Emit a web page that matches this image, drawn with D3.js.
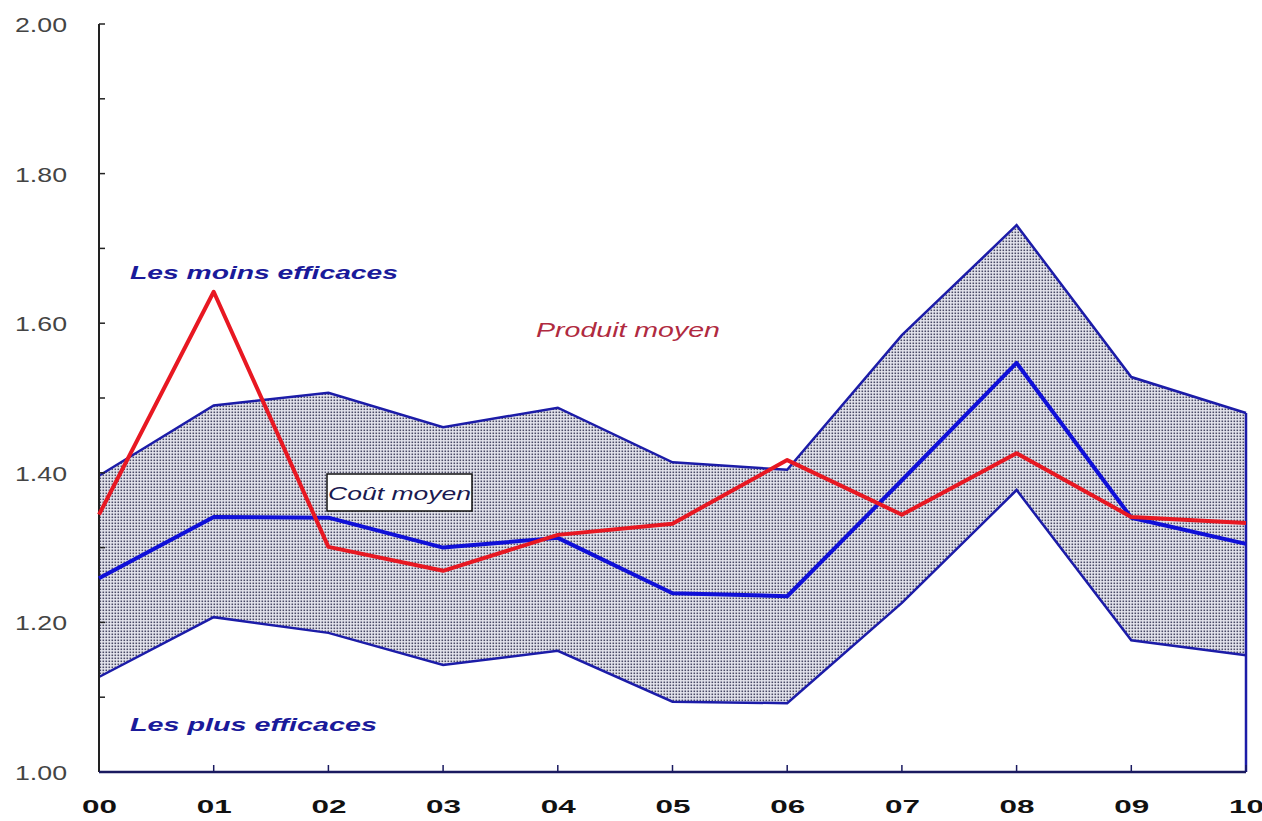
<!DOCTYPE html>
<html><head><meta charset="utf-8">
<script src="https://cdn.jsdelivr.net/npm/d3@7"></script>
<style>html,body{margin:0;padding:0;background:#fff;}svg{display:block;}</style>
</head><body>
<svg id="chart" width="1262" height="821"></svg>
<script>
const years = ["00","01","02","03","04","05","06","07","08","09","10"];
const moinsEfficaces = [1.396,1.490,1.507,1.461,1.487,1.414,1.404,1.584,1.731,1.528,1.480];
const plusEfficaces  = [1.127,1.207,1.186,1.143,1.162,1.094,1.092,1.226,1.377,1.176,1.156];
const coutMoyen      = [1.259,1.341,1.340,1.300,1.313,1.239,1.235,1.390,1.547,1.340,1.305];
const produitMoyen   = [1.344,1.642,1.301,1.269,1.317,1.332,1.417,1.344,1.426,1.341,1.333];
const yTicks = [1.0,1.1,1.2,1.3,1.4,1.5,1.6,1.7,1.8,1.9,2.0];
const yLabels = [1.0,1.2,1.4,1.6,1.8,2.0];

const svg = d3.select("#chart");
const x = d3.scalePoint().domain(years).range([99,1246]);
const y = d3.scaleLinear().domain([1,2]).range([772,24]);

const defs = svg.append("defs");
const pat = defs.append("pattern").attr("id","dots").attr("patternUnits","userSpaceOnUse")
  .attr("width",3).attr("height",3);
pat.append("rect").attr("width",3).attr("height",3).attr("fill","#e6e6ee");
pat.append("rect").attr("x",0.5).attr("y",0.5).attr("width",1.6).attr("height",1.6).attr("fill","#4a4a66");

const data = years.map((d,i)=>({k:d,hi:moinsEfficaces[i],lo:plusEfficaces[i],c:coutMoyen[i],p:produitMoyen[i]}));

// band
svg.append("path").datum(data)
  .attr("d", d3.area().x(d=>x(d.k)).y0(d=>y(d.lo)).y1(d=>y(d.hi)))
  .attr("fill","url(#dots)");

const bandBlue = "#1c1ca8";
[ "hi","lo" ].forEach(key=>{
  svg.append("path").datum(data)
    .attr("d", d3.line().x(d=>x(d.k)).y(d=>y(d[key])))
    .attr("fill","none").attr("stroke",bandBlue).attr("stroke-width",2.5);
});
svg.append("line").attr("x1",x("10")).attr("x2",x("10"))
  .attr("y1",y(moinsEfficaces[10])).attr("y2",y(1))
  .attr("stroke",bandBlue).attr("stroke-width",2.5);

// axes
const font = "Liberation Sans, Arial, sans-serif";
const gy = svg.append("g").attr("transform",`translate(${x("00")},0)`);
gy.append("line").attr("y1",y(2)).attr("y2",y(1)).attr("stroke","#222").attr("stroke-width",2);
gy.selectAll(".yt").data(yTicks).join("line").attr("x1",0).attr("x2",6)
  .attr("y1",d=>y(d)).attr("y2",d=>y(d)).attr("stroke","#222").attr("stroke-width",1.5);
svg.selectAll(".yl").data(yLabels).join("text")
  .attr("x",15).attr("y",d=>y(d)+8)
  .attr("textLength",52).attr("lengthAdjust","spacingAndGlyphs")
  .attr("font-family",font).attr("font-size",21)
  .attr("fill","#444").text(d=>d.toFixed(2));

svg.append("line").attr("x1",x("00")).attr("x2",x("10")).attr("y1",y(1)).attr("y2",y(1))
  .attr("stroke","#1a1a60").attr("stroke-width",2.5);
svg.selectAll(".xt").data(years.slice(1)).join("line")
  .attr("x1",d=>x(d)).attr("x2",d=>x(d)).attr("y1",y(1)).attr("y2",y(1)-7)
  .attr("stroke","#1a1a60").attr("stroke-width",1.5);
svg.selectAll(".xl").data(years).join("text")
  .attr("x",d=>x(d)-17).attr("y",813)
  .attr("textLength",35).attr("lengthAdjust","spacingAndGlyphs")
  .attr("font-family",font).attr("font-size",19).attr("font-weight","bold")
  .attr("fill","#111").text(d=>d);

// coût moyen line
svg.append("path").datum(data)
  .attr("d", d3.line().x(d=>x(d.k)).y(d=>y(d.c)))
  .attr("fill","none").attr("stroke","#1010d8").attr("stroke-width",4).attr("stroke-linejoin","round");
// produit moyen line
svg.append("path").datum(data)
  .attr("d", d3.line().x(d=>x(d.k)).y(d=>y(d.p)))
  .attr("fill","none").attr("stroke","#e81822").attr("stroke-width",4).attr("stroke-linejoin","round");

// annotations
svg.append("text").attr("x",130).attr("y",279).attr("textLength",268).attr("lengthAdjust","spacingAndGlyphs")
  .attr("font-family",font).attr("font-size",19).attr("font-weight","bold").attr("font-style","italic")
  .attr("fill","#1a1a9a").text("Les moins efficaces");
svg.append("text").attr("x",130).attr("y",731).attr("textLength",247).attr("lengthAdjust","spacingAndGlyphs")
  .attr("font-family",font).attr("font-size",19).attr("font-weight","bold").attr("font-style","italic")
  .attr("fill","#1a1a9a").text("Les plus efficaces");
svg.append("text").attr("x",536).attr("y",337).attr("textLength",184).attr("lengthAdjust","spacingAndGlyphs")
  .attr("font-family",font).attr("font-size",20).attr("font-style","italic")
  .attr("fill","#b02a40").text("Produit moyen");
svg.append("rect").attr("x",327).attr("y",474).attr("width",145).attr("height",37)
  .attr("fill","#fff").attr("stroke","#111").attr("stroke-width",1.5);
svg.append("text").attr("x",328).attr("y",500).attr("textLength",143).attr("lengthAdjust","spacingAndGlyphs")
  .attr("font-family",font).attr("font-size",19).attr("font-style","italic")
  .attr("fill","#1a1a50").text("Coût moyen");
</script>
</body></html>
